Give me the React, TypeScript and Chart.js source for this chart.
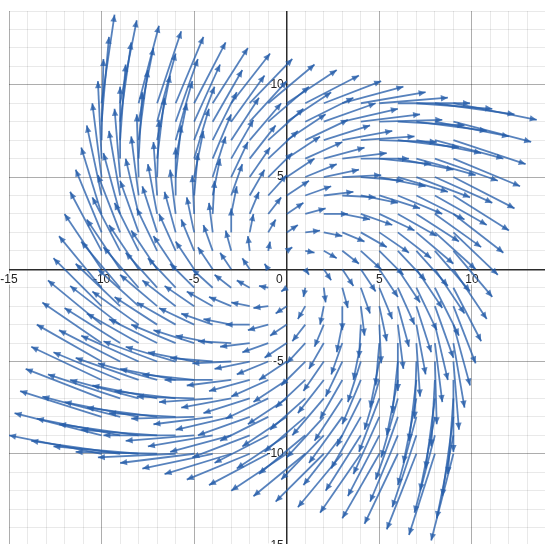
import { useEffect, useRef } from "react";
import { Chart, registerables } from "chart.js";

Chart.register(...registerables);

// Tail positions of the vector-field arrows (lattice columns / rows)
const COLS_X = [-10, -9, -8, -7, -6, -5, -4, -3, -2, -1, 0, 1, 2, 3, 4, 5, 6, 7, 8, 9];
const ROWS_Y = [9, 8, 7, 6, 5, 4, 3, 2, 1, 0, -1, -2, -3, -4, -5, -6, -7, -8, -9, -10];

// Horizontal component of each arrow (row = ROWS_Y, column = COLS_X)
const DX = [
  [0.7, 0.9, 1.1, 1.3, 1.5, 1.7, 1.9, 2.1, 2.3, 2.5, 2.7, 2.9, 3.1, 3.3, 3.5, 3.7, 3.9, 4.1, 4.3, 4.5],
  [0.4, 0.6, 0.8, 1.0, 1.2, 1.4, 1.6, 1.8, 2.0, 2.2, 2.4, 2.6, 2.8, 3.0, 3.2, 3.4, 3.6, 3.8, 4.0, 4.2],
  [0.1, 0.3, 0.5, 0.7, 0.9, 1.1, 1.3, 1.5, 1.7, 1.9, 2.1, 2.3, 2.5, 2.7, 2.9, 3.1, 3.3, 3.5, 3.7, 3.9],
  [-0.2, 0, 0.2, 0.4, 0.6, 0.8, 1.0, 1.2, 1.4, 1.6, 1.8, 2.0, 2.2, 2.4, 2.6, 2.8, 3.0, 3.2, 3.4, 3.6],
  [-0.5, -0.3, -0.1, 0.1, 0.3, 0.5, 0.7, 0.9, 1.1, 1.3, 1.5, 1.7, 1.9, 2.1, 2.3, 2.5, 2.7, 2.9, 3.1, 3.3],
  [-0.8, -0.6, -0.4, -0.2, 0, 0.2, 0.4, 0.6, 0.8, 1.0, 1.2, 1.4, 1.6, 1.8, 2.0, 2.2, 2.4, 2.6, 2.8, 3.0],
  [-1.1, -0.9, -0.7, -0.5, -0.3, -0.1, 0.1, 0.3, 0.5, 0.7, 0.9, 1.1, 1.3, 1.5, 1.7, 1.9, 2.1, 2.3, 2.5, 2.7],
  [-1.4, -1.2, -1.0, -0.8, -0.6, -0.4, -0.2, 0, 0.2, 0.4, 0.6, 0.8, 1.0, 1.2, 1.4, 1.6, 1.8, 2.0, 2.2, 2.4],
  [-1.7, -1.5, -1.3, -1.1, -0.9, -0.7, -0.5, -0.3, -0.1, 0.1, 0.3, 0.5, 0.7, 0.9, 1.1, 1.3, 1.5, 1.7, 1.9, 2.1],
  [-2.0, -1.8, -1.6, -1.4, -1.2, -1.0, -0.8, -0.6, -0.4, -0.2, 0, 0.2, 0.4, 0.6, 0.8, 1.0, 1.2, 1.4, 1.6, 1.8],
  [-2.3, -2.1, -1.9, -1.7, -1.5, -1.3, -1.1, -0.9, -0.7, -0.5, -0.3, -0.1, 0.1, 0.3, 0.5, 0.7, 0.9, 1.1, 1.3, 1.5],
  [-2.6, -2.4, -2.2, -2.0, -1.8, -1.6, -1.4, -1.2, -1.0, -0.8, -0.6, -0.4, -0.2, 0, 0.2, 0.4, 0.6, 0.8, 1.0, 1.2],
  [-2.9, -2.7, -2.5, -2.3, -2.1, -1.9, -1.7, -1.5, -1.3, -1.1, -0.9, -0.7, -0.5, -0.3, -0.1, 0.1, 0.3, 0.5, 0.7, 0.9],
  [-3.2, -3.0, -2.8, -2.6, -2.4, -2.2, -2.0, -1.8, -1.6, -1.4, -1.2, -1.0, -0.8, -0.6, -0.4, -0.2, 0, 0.2, 0.4, 0.6],
  [-3.5, -3.3, -3.1, -2.9, -2.7, -2.5, -2.3, -2.1, -1.9, -1.7, -1.5, -1.3, -1.1, -0.9, -0.7, -0.5, -0.3, -0.1, 0.1, 0.3],
  [-3.8, -3.6, -3.4, -3.2, -3.0, -2.8, -2.6, -2.4, -2.2, -2.0, -1.8, -1.6, -1.4, -1.2, -1.0, -0.8, -0.6, -0.4, -0.2, 0],
  [-4.1, -3.9, -3.7, -3.5, -3.3, -3.1, -2.9, -2.7, -2.5, -2.3, -2.1, -1.9, -1.7, -1.5, -1.3, -1.1, -0.9, -0.7, -0.5, -0.3],
  [-4.4, -4.2, -4.0, -3.8, -3.6, -3.4, -3.2, -3.0, -2.8, -2.6, -2.4, -2.2, -2.0, -1.8, -1.6, -1.4, -1.2, -1.0, -0.8, -0.6],
  [-4.7, -4.5, -4.3, -4.1, -3.9, -3.7, -3.5, -3.3, -3.1, -2.9, -2.7, -2.5, -2.3, -2.1, -1.9, -1.7, -1.5, -1.3, -1.1, -0.9],
  [-5.0, -4.8, -4.6, -4.4, -4.2, -4.0, -3.8, -3.6, -3.4, -3.2, -3.0, -2.8, -2.6, -2.4, -2.2, -2.0, -1.8, -1.6, -1.4, -1.2],
];

// Vertical component of each arrow (row = ROWS_Y, column = COLS_X)
const DY = [
  [4.8, 4.5, 4.2, 3.9, 3.6, 3.3, 3.0, 2.7, 2.4, 2.1, 1.8, 1.5, 1.2, 0.9, 0.6, 0.3, 0, -0.3, -0.6, -0.9],
  [4.6, 4.3, 4.0, 3.7, 3.4, 3.1, 2.8, 2.5, 2.2, 1.9, 1.6, 1.3, 1.0, 0.7, 0.4, 0.1, -0.2, -0.5, -0.8, -1.1],
  [4.4, 4.1, 3.8, 3.5, 3.2, 2.9, 2.6, 2.3, 2.0, 1.7, 1.4, 1.1, 0.8, 0.5, 0.2, -0.1, -0.4, -0.7, -1.0, -1.3],
  [4.2, 3.9, 3.6, 3.3, 3.0, 2.7, 2.4, 2.1, 1.8, 1.5, 1.2, 0.9, 0.6, 0.3, 0, -0.3, -0.6, -0.9, -1.2, -1.5],
  [4.0, 3.7, 3.4, 3.1, 2.8, 2.5, 2.2, 1.9, 1.6, 1.3, 1.0, 0.7, 0.4, 0.1, -0.2, -0.5, -0.8, -1.1, -1.4, -1.7],
  [3.8, 3.5, 3.2, 2.9, 2.6, 2.3, 2.0, 1.7, 1.4, 1.1, 0.8, 0.5, 0.2, -0.1, -0.4, -0.7, -1.0, -1.3, -1.6, -1.9],
  [3.6, 3.3, 3.0, 2.7, 2.4, 2.1, 1.8, 1.5, 1.2, 0.9, 0.6, 0.3, 0, -0.3, -0.6, -0.9, -1.2, -1.5, -1.8, -2.1],
  [3.4, 3.1, 2.8, 2.5, 2.2, 1.9, 1.6, 1.3, 1.0, 0.7, 0.4, 0.1, -0.2, -0.5, -0.8, -1.1, -1.4, -1.7, -2.0, -2.3],
  [3.2, 2.9, 2.6, 2.3, 2.0, 1.7, 1.4, 1.1, 0.8, 0.5, 0.2, -0.1, -0.4, -0.7, -1.0, -1.3, -1.6, -1.9, -2.2, -2.5],
  [3.0, 2.7, 2.4, 2.1, 1.8, 1.5, 1.2, 0.9, 0.6, 0.3, 0, -0.3, -0.6, -0.9, -1.2, -1.5, -1.8, -2.1, -2.4, -2.7],
  [2.8, 2.5, 2.2, 1.9, 1.6, 1.3, 1.0, 0.7, 0.4, 0.1, -0.2, -0.5, -0.8, -1.1, -1.4, -1.7, -2.0, -2.3, -2.6, -2.9],
  [2.6, 2.3, 2.0, 1.7, 1.4, 1.1, 0.8, 0.5, 0.2, -0.1, -0.4, -0.7, -1.0, -1.3, -1.6, -1.9, -2.2, -2.5, -2.8, -3.1],
  [2.4, 2.1, 1.8, 1.5, 1.2, 0.9, 0.6, 0.3, 0, -0.3, -0.6, -0.9, -1.2, -1.5, -1.8, -2.1, -2.4, -2.7, -3.0, -3.3],
  [2.2, 1.9, 1.6, 1.3, 1.0, 0.7, 0.4, 0.1, -0.2, -0.5, -0.8, -1.1, -1.4, -1.7, -2.0, -2.3, -2.6, -2.9, -3.2, -3.5],
  [2.0, 1.7, 1.4, 1.1, 0.8, 0.5, 0.2, -0.1, -0.4, -0.7, -1.0, -1.3, -1.6, -1.9, -2.2, -2.5, -2.8, -3.1, -3.4, -3.7],
  [1.8, 1.5, 1.2, 0.9, 0.6, 0.3, 0, -0.3, -0.6, -0.9, -1.2, -1.5, -1.8, -2.1, -2.4, -2.7, -3.0, -3.3, -3.6, -3.9],
  [1.6, 1.3, 1.0, 0.7, 0.4, 0.1, -0.2, -0.5, -0.8, -1.1, -1.4, -1.7, -2.0, -2.3, -2.6, -2.9, -3.2, -3.5, -3.8, -4.1],
  [1.4, 1.1, 0.8, 0.5, 0.2, -0.1, -0.4, -0.7, -1.0, -1.3, -1.6, -1.9, -2.2, -2.5, -2.8, -3.1, -3.4, -3.7, -4.0, -4.3],
  [1.2, 0.9, 0.6, 0.3, 0, -0.3, -0.6, -0.9, -1.2, -1.5, -1.8, -2.1, -2.4, -2.7, -3.0, -3.3, -3.6, -3.9, -4.2, -4.5],
  [1.0, 0.7, 0.4, 0.1, -0.2, -0.5, -0.8, -1.1, -1.4, -1.7, -2.0, -2.3, -2.6, -2.9, -3.2, -3.5, -3.8, -4.1, -4.4, -4.7],
];

// Axis ranges and the numbers printed beside the axes
const X_RANGE = [-15, 14];
const Y_RANGE = [-15, 14];
const X_TICK_LABELS = [-15, -10, -5, 5, 10];
const Y_TICK_LABELS = [10, 5, -5, -10, -15];
const ORIGIN_LABEL = "0";

const ARROW_COLOR = "rgba(40, 95, 170, 0.78)";
const LABEL_FONT = '12px "Liberation Sans", Arial, sans-serif';

function gridColor(ctx: any) {
  const v = ctx.tick ? ctx.tick.value : 1;
  if (v === 0) return "#2b2b2b";
  if (v % 5 === 0) return "rgba(0,0,0,0.32)";
  return "rgba(0,0,0,0.085)";
}
function gridWidth(ctx: any) {
  const v = ctx.tick ? ctx.tick.value : 1;
  return v === 0 ? 1.5 : 1;
}

const arrowHeads = {
  id: "arrowHeads",
  afterDatasetsDraw(chart: any) {
    const { ctx, chartArea } = chart;
    ctx.save();
    ctx.beginPath();
    ctx.rect(chartArea.left, chartArea.top, chartArea.right - chartArea.left, chartArea.bottom - chartArea.top);
    ctx.clip();
    ctx.fillStyle = ARROW_COLOR;
    chart.data.datasets.forEach((_ds: any, i: number) => {
      const meta = chart.getDatasetMeta(i);
      const p0 = meta.data[0];
      const p1 = meta.data[1];
      if (!p0 || !p1) return;
      const ang = Math.atan2(p1.y - p0.y, p1.x - p0.x);
      const L = 7;
      const W = 3.2;
      const bx = p1.x - Math.cos(ang) * L;
      const by = p1.y - Math.sin(ang) * L;
      ctx.beginPath();
      ctx.moveTo(p1.x, p1.y);
      ctx.lineTo(bx - Math.sin(ang) * W, by + Math.cos(ang) * W);
      ctx.lineTo(bx + Math.sin(ang) * W, by - Math.cos(ang) * W);
      ctx.closePath();
      ctx.fill();
    });
    ctx.restore();
  },
};

const axisLabels = {
  id: "axisLabels",
  beforeDatasetsDraw(chart: any) {
    const { ctx } = chart;
    const xs = chart.scales.x;
    const ys = chart.scales.y;
    const ax = xs.getPixelForValue(0);
    const ay = ys.getPixelForValue(0);
    ctx.save();
    ctx.font = LABEL_FONT;
    ctx.fillStyle = "#222";
    ctx.strokeStyle = "#ffffff";
    ctx.lineWidth = 3;
    ctx.lineJoin = "round";
    const put = (t: string, x: number, y: number) => {
      ctx.strokeText(t, x, y);
      ctx.fillText(t, x, y);
    };
    ctx.textAlign = "center";
    ctx.textBaseline = "alphabetic";
    X_TICK_LABELS.forEach((v) => put(String(v), xs.getPixelForValue(v), ay + 14));
    ctx.textAlign = "right";
    put(ORIGIN_LABEL, ax - 4, ay + 14);
    ctx.textBaseline = "middle";
    Y_TICK_LABELS.forEach((v) => put(String(v), ax - 3, ys.getPixelForValue(v)));
    ctx.restore();
  },
};

export default function App() {
  const ref = useRef<HTMLCanvasElement>(null);
  useEffect(() => {
    const canvas = ref.current;
    if (!canvas) return;
    const datasets: any[] = [];
    ROWS_Y.forEach((y, r) => {
      COLS_X.forEach((x, c) => {
        const dx = DX[r][c];
        const dy = DY[r][c];
        if (dx === 0 && dy === 0) return;
        datasets.push({
          data: [
            { x, y },
            { x: x + dx, y: y + dy },
          ],
          showLine: true,
          borderColor: ARROW_COLOR,
          backgroundColor: ARROW_COLOR,
          borderWidth: 1.8,
          pointRadius: 0,
          pointHoverRadius: 0,
          fill: false,
          tension: 0,
        });
      });
    });
    const chart = new Chart(canvas, {
      type: "scatter",
      data: { datasets },
      options: {
        animation: false,
        responsive: false,
        devicePixelRatio: 1,
        events: [],
        layout: { padding: { left: 9, top: 11, right: 0, bottom: 0 } },
        plugins: { legend: { display: false }, tooltip: { enabled: false } },
        scales: {
          x: {
            type: "linear",
            min: X_RANGE[0],
            max: X_RANGE[1],
            ticks: { display: false, stepSize: 1, autoSkip: false, maxTicksLimit: 100 },
            grid: { drawTicks: false, color: gridColor, lineWidth: gridWidth },
            border: { display: false },
          },
          y: {
            type: "linear",
            min: Y_RANGE[0],
            max: Y_RANGE[1],
            ticks: { display: false, stepSize: 1, autoSkip: false, maxTicksLimit: 100 },
            grid: { drawTicks: false, color: gridColor, lineWidth: gridWidth },
            border: { display: false },
          },
        },
      },
      plugins: [axisLabels, arrowHeads],
    });
    return () => chart.destroy();
  }, []);
  return (
    <div
      style={{
        position: "fixed",
        left: 0,
        top: 0,
        width: 545,
        height: 544,
        overflow: "hidden",
        background: "#fff",
      }}
    >
      <canvas ref={ref} width={546} height={546} style={{ display: "block" }} />
    </div>
  );
}
